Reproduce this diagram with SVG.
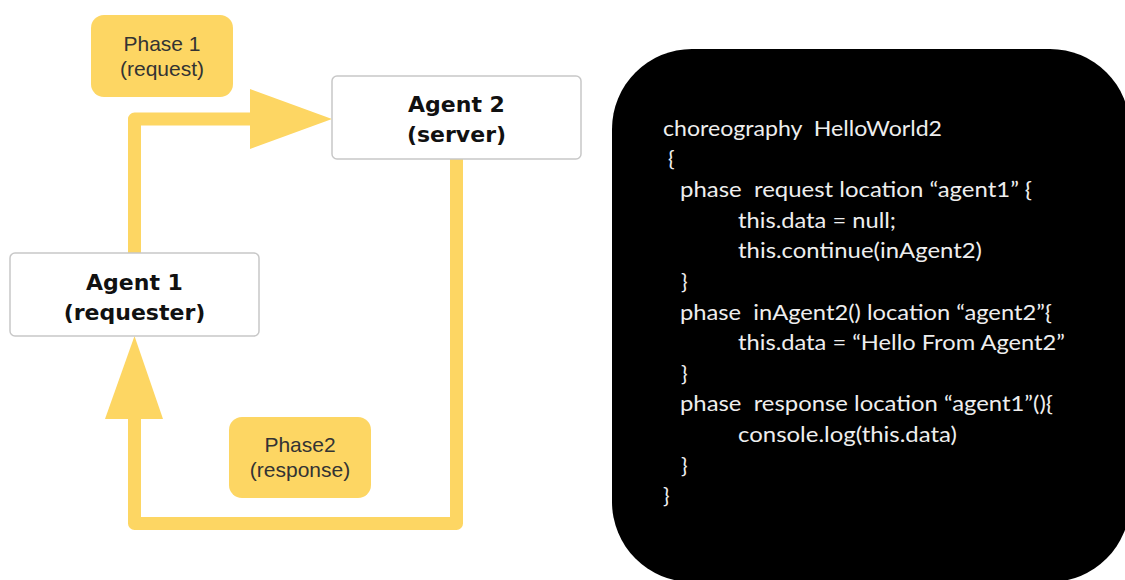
<svg xmlns="http://www.w3.org/2000/svg" width="1125" height="580" viewBox="0 0 1125 580">
  <defs>
    <style>
      .agent { fill: #ffffff; stroke: #c8c8c8; stroke-width: 1.5; }
      .agent-label { font-family: "DejaVu Sans", sans-serif; font-weight: bold; font-size: 22px; fill: #111111; text-anchor: middle; }
      .phase { fill: #FDD663; }
      .phase-label { font-family: "Liberation Sans", Arial, sans-serif; font-size: 21px; fill: #333333; text-anchor: middle; }
      .flow { fill: none; stroke: #FDD663; stroke-width: 13; stroke-linejoin: round; }
      .head { fill: #FDD663; }
      .code { font-family: Lato, "Liberation Sans", sans-serif; font-size: 22px; fill: #eeeeee; white-space: pre; }
    </style>
  </defs>
  <rect width="1125" height="580" fill="#ffffff"/>

  <!-- message flow between the agents -->
  <g id="connectors">
    <g id="request-flow">
      <path class="flow" d="M134.5,253 V119 H252"/>
      <polygon class="head" points="250,89 332,119 250,149"/>
    </g>
    <g id="response-flow">
      <path class="flow" d="M456.5,159 V523.5 H134.5 V417"/>
      <polygon class="head" points="105,419 134.5,336 163,419"/>
    </g>
  </g>

  <g id="phase1">
    <rect class="phase" x="91" y="15" width="142" height="82" rx="13"/>
    <text class="phase-label" x="162" y="51">Phase 1</text>
    <text class="phase-label" x="162" y="76">(request)</text>
  </g>

  <g id="phase2">
    <rect class="phase" x="229" y="417" width="142" height="81" rx="13"/>
    <text class="phase-label" x="300" y="452">Phase2</text>
    <text class="phase-label" x="300" y="477">(response)</text>
  </g>

  <g id="agent2">
    <rect class="agent" x="332" y="76" width="249" height="83" rx="5"/>
    <text class="agent-label" x="456.5" y="112">Agent 2</text>
    <text class="agent-label" x="456.5" y="142">(server)</text>
  </g>

  <g id="agent1">
    <rect class="agent" x="10" y="253" width="249" height="83" rx="5"/>
    <text class="agent-label" x="134.5" y="290">Agent 1</text>
    <text class="agent-label" x="134.5" y="320">(requester)</text>
  </g>

  <!-- choreography source listing -->
  <g id="code-panel">
    <rect x="612" y="49" width="518" height="533" rx="80" fill="#000000"/>
    <text class="code" x="663" y="136" textLength="279" lengthAdjust="spacingAndGlyphs">choreography  HelloWorld2</text>
    <text class="code" x="668" y="166">{</text>
    <text class="code" x="680" y="197" textLength="352" lengthAdjust="spacingAndGlyphs">phase  request location “agent1” {</text>
    <text class="code" x="738" y="228" textLength="158" lengthAdjust="spacingAndGlyphs">this.data = null;</text>
    <text class="code" x="738" y="258" textLength="244" lengthAdjust="spacingAndGlyphs">this.continue(inAgent2)</text>
    <text class="code" x="681" y="289">}</text>
    <text class="code" x="680" y="320" textLength="372" lengthAdjust="spacingAndGlyphs">phase  inAgent2() location “agent2”{</text>
    <text class="code" x="738" y="350" textLength="327" lengthAdjust="spacingAndGlyphs">this.data = “Hello From Agent2”</text>
    <text class="code" x="681" y="381">}</text>
    <text class="code" x="680" y="411" textLength="373" lengthAdjust="spacingAndGlyphs">phase  response location “agent1”(){</text>
    <text class="code" x="738" y="442" textLength="219" lengthAdjust="spacingAndGlyphs">console.log(this.data)</text>
    <text class="code" x="681" y="473">}</text>
    <text class="code" x="663" y="503">}</text>
  </g>
</svg>
